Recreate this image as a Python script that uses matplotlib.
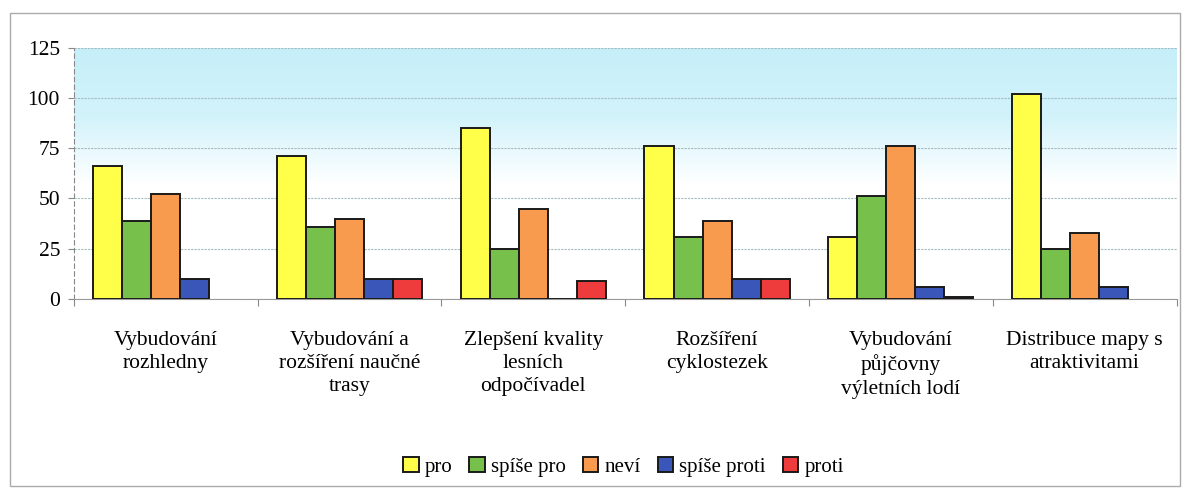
import numpy as np
import matplotlib.pyplot as plt
from matplotlib.colors import LinearSegmentedColormap
from matplotlib.patches import Rectangle

categories = ['Vybudování\nrozhledny',
              'Vybudování a\nrozšíření naučné\ntrasy',
              'Zlepšení kvality\nlesních\nodpočívadel',
              'Rozšíření\ncyklostezek',
              'Vybudování\npůjčovny\nvýletních lodí',
              'Distribuce mapy s\natraktivitami']
series = ['pro', 'spíše pro', 'neví', 'spíše proti', 'proti']
pro = [66, 71, 85, 76, 31, 102]
spise_pro = [39, 36, 25, 31, 51, 25]
nevi = [52, 40, 45, 39, 76, 33]
spise_proti = [10, 10, 0, 10, 6, 6]
proti = [np.nan, 10, 9, 10, 1, np.nan]
colors = ['#ffff4a', '#78c04c', '#f99b4e', '#3a56b8', '#ee3b3b']

plt.rcParams['font.family'] = ['Liberation Serif', 'DejaVu Serif']

fig = plt.figure(figsize=(11.92, 4.94), dpi=100)
ax = fig.add_axes([0.062, 0.395, 0.925, 0.508])

# background: white in lower half, fading to light cyan towards the top
cmap = LinearSegmentedColormap.from_list(
    'bg', [(0, '#ffffff'), (0.46, '#ffffff'), (0.72, '#d3f3fb'), (1, '#c6eff9')])
grad = np.linspace(0, 1, 256).reshape(-1, 1)
ax.imshow(grad, extent=[0, 6, 0, 125], origin='lower', aspect='auto',
          cmap=cmap, zorder=0)

x = np.arange(len(categories)) + 0.5
w = 0.158
data = [pro, spise_pro, nevi, spise_proti, proti]
for i, (vals, c, name) in enumerate(zip(data, colors, series)):
    ax.bar(x + (i - 2) * w, vals, w, color=c, edgecolor='#1a1a1a',
           linewidth=1.4, label=name, zorder=3)

ax.set_xlim(0, 6)
ax.set_ylim(0, 125)
ax.set_yticks([0, 25, 50, 75, 100, 125])
ax.yaxis.grid(True, color='#a5bcc3', linewidth=0.8, linestyle=(0, (2, 1)), zorder=1)
ax.set_axisbelow(True)
ax.tick_params(axis='y', labelsize=15.5, length=4, color='#888888', pad=6)

ax.set_xticks(np.arange(0, 7), minor=False)
ax.set_xticklabels([])
ax.set_xticks(x, minor=True)
ax.set_xticklabels(categories, minor=True, fontsize=15.5, linespacing=1.3)
ax.tick_params(axis='x', which='major', length=5, color='#888888')
ax.tick_params(axis='x', which='minor', length=0, pad=23)

for s in ['top', 'right']:
    ax.spines[s].set_visible(False)
ax.spines['left'].set_linestyle((0, (4, 3)))
ax.spines['left'].set_color('#888888')
ax.spines['bottom'].set_color('#999999')

fig.legend(loc='center', bbox_to_anchor=(0.523, 0.055), ncol=5, frameon=False,
           fontsize=15, handlelength=0.75, handleheight=0.75,
           handletextpad=0.3, columnspacing=0.8)

# outer chart border
fig.patches.append(Rectangle((0.008, 0.016), 0.982, 0.958, transform=fig.transFigure,
                             fill=False, edgecolor='#aaaaaa', linewidth=1))

fig.savefig('out.png', dpi=100)
